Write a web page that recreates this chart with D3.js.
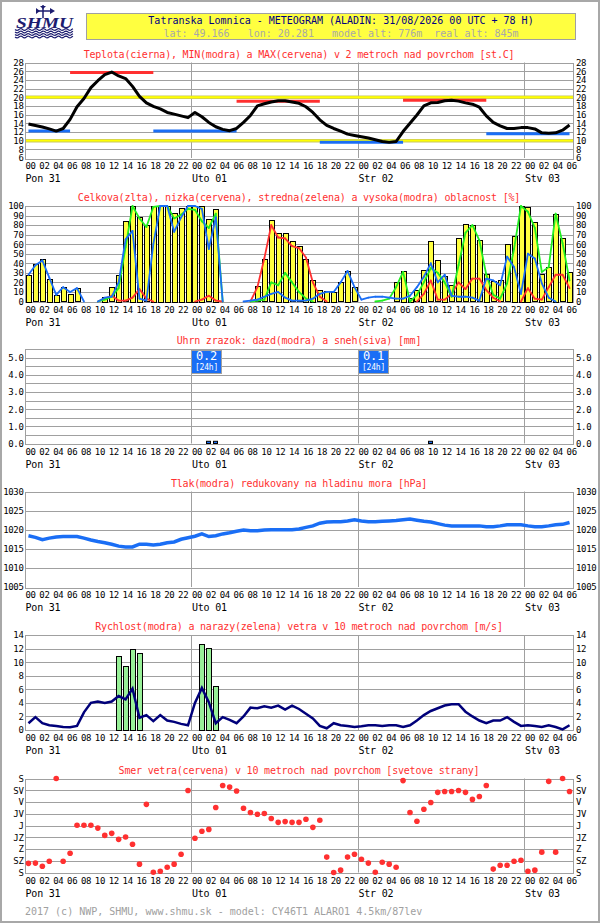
<!DOCTYPE html>
<html>
<head>
<meta charset="utf-8">
<script src="https://cdn.jsdelivr.net/npm/d3@7"></script>
<style>
body { margin: 0; background: #fff; }
svg text { font-family: "DejaVu Sans Mono", monospace; font-size: 10px; letter-spacing: -0.2px; }
svg .tick text { font-size: 9px; letter-spacing: -0.35px; }
</style>
</head>
<body>
<svg id="chart"></svg>
<script>
// hourly values, 00 UTC Mon 31 .. +78 h
var temp = [13.85,13.5,13.15,12.7,12.2,12.8,14.9,17.8,19.7,22.2,
            23.8,25.2,25.8,24.9,24.3,22.5,20.2,18.7,17.9,17.3,
            16.5,16.1,15.7,15.3,16.5,15.5,14.2,13.2,12.6,12.3,
            12.8,14.2,15.8,18.0,18.5,18.9,19.2,19.2,18.9,18.6,
            17.8,16.5,14.8,13.5,12.8,12.2,11.5,11.2,10.9,10.6,
            10.2,9.8,9.6,9.8,12.1,14.0,15.9,18.0,18.7,18.8,
            19.2,19.3,19.1,18.7,18.4,17.7,15.7,14.2,13.4,12.8,
            12.8,13.0,13.0,12.7,11.8,11.7,11.8,12.4,13.6];
var tMax = [25.7, 19.1, 19.3];
var tMaxFrom = [6, 30, 54], tMaxTo = [18, 42, 66];
var tMin = [12.2, 12.2, 9.6, 11.6];
var tMinFrom = [0, 18, 42, 66], tMinTo = [6, 30, 54, 78];

var cloudTotal = [28,39,44,24,7,15,8,14,0,0,
                  0,5,15,28,84,100,89,80,100,100,
                  100,93,98,100,100,100,86,97,0,0,
                  0,0,0,16,44,85,72,72,63,58,
                  45,23,12,11,10,20,32,15,0,0,
                  0,0,0,20,32,4,12,33,63,43,
                  27,17,66,81,80,64,29,21,22,60,
                  69,100,99,83,29,36,92,66,31];
var cloudLow = [0,0,0,0,0,0,0,0,0,0,
                0,3,6,1,1,4,13,3,0,0,
                0,0,0,0,0,2,6,1,0,0,
                0,0,0,15,45,80,67,66,58,56,
                46,20,5,0,0,0,0,0,0,0,
                0,0,0,0,0,0,0,8,22,2,
                2,8,20,13,24,24,12,4,0,0,
                0,0,14,3,2,15,28,28,14];
var cloudMid = [0,0,0,0,0,0,0,0,0,0,
                0,2,5,14,57,100,87,78,99,100,
                100,87,91,97,96,84,77,92,0,0,
                0,0,0,1,2,20,17,30,20,10,
                3,0,0,0,0,0,0,0,0,0,
                0,1,3,15,31,0,7,20,35,30,
                20,5,38,72,80,64,28,7,3,19,
                55,100,94,77,31,36,92,61,22];
var cloudHigh = [28,38,43,25,7,15,10,14,0,0,
                 0,4,5,20,65,74,3,1,60,100,
                 100,73,88,100,100,97,55,88,0,0,
                 0,0,1,2,5,8,10,4,1,1,
                 1,3,8,10,10,20,32,15,2,4,
                 5,5,4,3,3,6,15,26,40,20,
                 28,6,5,5,4,1,24,22,17,47,
                 36,8,50,45,19,4,0,0,0];

var rain = [0,0,0,0,0,0,0,0,0,0,
            0,0,0,0,0,0,0,0,0,0,
            0,0,0,0,0,0,0.1,0.1,0,0,
            0,0,0,0,0,0,0,0,0,0,
            0,0,0,0,0,0,0,0,0,0,
            0,0,0,0,0,0,0,0,0.1,0,
            0,0,0,0,0,0,0,0,0,0,
            0,0,0,0,0,0,0,0,0];

var pressure = [1018.4,1018.0,1017.4,1017.8,1018.1,1018.2,1018.2,1018.2,1017.8,1017.3,
                1016.9,1016.6,1016.2,1015.7,1015.5,1015.5,1016.2,1016.2,1016.0,1016.2,
                1016.6,1016.8,1017.5,1017.9,1018.3,1018.9,1018.2,1018.4,1018.9,1019.2,
                1019.6,1019.9,1019.7,1019.7,1019.9,1020.0,1020.0,1020.0,1020.0,1020.2,
                1020.6,1021.0,1021.7,1022.0,1022.1,1022.1,1022.3,1022.6,1022.3,1022.1,
                1022.1,1022.2,1022.3,1022.4,1022.6,1022.8,1022.5,1022.2,1022.0,1021.6,
                1021.2,1021.0,1021.0,1021.0,1021.0,1021.0,1020.8,1020.8,1021.0,1021.3,
                1021.3,1021.3,1021.0,1020.8,1020.8,1021.0,1021.3,1021.4,1021.9];

var windSpeed = [1.0,1.9,1.0,0.7,0.6,0.45,0.4,0.6,2.6,4.0,
                 4.2,4.0,4.2,5.0,4.5,6.1,1.8,2.2,1.3,2.2,
                 1.4,1.2,0.9,0.7,4.0,6.2,4.1,1.0,1.9,1.5,
                 1.0,2.0,3.3,3.2,3.5,3.3,3.6,3.0,3.6,3.1,
                 2.4,1.7,0.6,0.25,1.0,0.7,0.6,0.45,0.55,0.7,
                 0.7,0.6,0.7,0.7,0.45,0.7,1.4,2.2,2.8,3.2,
                 3.6,3.8,3.8,2.7,2.0,1.4,1.0,1.4,1.4,1.9,
                 1.2,0.6,0.7,0.6,0.45,0.7,0.45,0.1,0.7];
var gustHour = [13, 14, 15, 16, 25, 26, 27];
var gust = [10.9, 9.4, 12.0, 11.4, 12.7, 12.1, 6.5];

var windDir = [325,324,336,317,0,317,286,179,179,179,
               190,218,210,233,224,252,328,99,359,355,
               340,328,290,46,229,202,195,111,27,33,
               48,114,130,137,134,153,168,165,168,168,
               156,187,160,301,360,351,301,290,309,324,
               359,321,328,340,8,130,164,118,92,53,
               50,50,46,53,80,69,27,347,332,332,
               317,313,355,351,282,11,282,0,50];

var dayLabels = ["Pon 31", "Uto 01", "Str 02", "Stv 03"];
var dayStart = [0, 24, 48, 72];
var dirLabels = ["S", "SV", "V", "JV", "J", "JZ", "Z", "SZ", "S"];

var width = 600, height = 923;
var left = 25, right = 573;
var grey = "#a0a0a0";
var blue = "#1a6ef5";
var red = "#ff3030";

var svg = d3.select("#chart").attr("width", width).attr("height", height);

var x = d3.scaleLinear().domain([0, 79]).range([left, right]);
var mid = function(i) { return x(i + 0.5); };
var pad2 = d3.format("02d");

function clean(sel) {
  sel.select(".domain").remove();
  sel.selectAll(".tick line").remove();
}

function panel(p) {
  var y = d3.scaleLinear().domain(p.domain).range([p.bottom, p.top]);
  var g = svg.append("g");

  g.selectAll("line.grid").data(p.grid).enter().append("line")
    .attr("x1", left).attr("x2", right)
    .attr("y1", function(d) { return Math.round(y(d)) + 0.5; })
    .attr("y2", function(d) { return Math.round(y(d)) + 0.5; })
    .attr("stroke", grey);

  g.selectAll("line.day").data(dayStart.slice(1)).enter().append("line")
    .attr("x1", function(d) { return Math.round(x(d)) + 0.5; })
    .attr("x2", function(d) { return Math.round(x(d)) + 0.5; })
    .attr("y1", p.top).attr("y2", p.bottom)
    .attr("stroke", grey);

  g.append("rect")
    .attr("x", left + 0.5).attr("y", Math.round(p.top) + 0.5)
    .attr("width", right - left).attr("height", Math.round(p.bottom - p.top))
    .attr("fill", "none").attr("stroke", grey);

  g.append("g").attr("transform", "translate(" + left + ",0)")
    .call(d3.axisLeft(y).tickValues(p.ticks).tickFormat(p.fmt).tickSize(0).tickPadding(1.5))
    .call(clean);
  g.append("g").attr("transform", "translate(" + right + ",0)")
    .call(d3.axisRight(y).tickValues(p.ticks).tickFormat(p.fmt).tickSize(0).tickPadding(3))
    .call(clean);

  var hx = g.append("g").attr("transform", "translate(0," + p.bottom + ")")
    .call(d3.axisBottom(x).tickValues(d3.range(0, 79, 2))
      .tickFormat(function(d) { return pad2(d % 24); }).tickSize(0).tickPadding(5))
    .call(clean);
  hx.selectAll("text").attr("text-anchor", "start");

  var dx = g.append("g").attr("transform", "translate(0," + p.bottom + ")")
    .call(d3.axisBottom(x).tickValues(dayStart)
      .tickFormat(function(d, i) { return dayLabels[i]; }).tickSize(0).tickPadding(17))
    .call(clean);
  dx.selectAll("text").attr("text-anchor", "start").style("font-size", "10px").style("letter-spacing", "-0.2px");

  svg.append("text")
    .attr("x", 299).attr("y", p.top - 5)
    .attr("text-anchor", "middle")
    .attr("fill", red)
    .text(p.title);

  return y;
}

// frame, logo, header
svg.append("rect").attr("x", 1).attr("y", 1).attr("width", width - 2).attr("height", height - 2)
  .attr("fill", "#fff").attr("stroke", "#a8a8a8").attr("stroke-width", 2);

var logo = svg.append("g").attr("fill", "#1c1c70").attr("stroke", "#1c1c70");
logo.append("line").attr("x1", 43).attr("x2", 43).attr("y1", 5).attr("y2", 18).attr("stroke-width", 1.5);
logo.append("line").attr("x1", 36).attr("x2", 53).attr("y1", 11).attr("y2", 11).attr("stroke-width", 1.5);
logo.append("path").attr("d", "M36,8 L40,11 L36,14 Z M50,8 L55,11 L50,14 Z M40,6 L46,6 L43,9 Z").attr("stroke", "none");
logo.append("text").attr("x", 16).attr("y", 27.5).attr("stroke", "none")
  .attr("textLength", 57).attr("lengthAdjust", "spacingAndGlyphs")
  .style("font-family", "'Liberation Serif', serif").style("font-size", "15px")
  .style("font-weight", "bold").style("font-style", "italic").style("letter-spacing", "0")
  .text("SHMU");
[29.5, 32, 34.5, 37].forEach(function(wy) {
  var pts = d3.range(15, 74, 1).map(function(px) { return [px, wy + Math.sin(px / 1.2) * 0.9]; });
  logo.append("path").attr("d", d3.line()(pts)).attr("fill", "none").attr("stroke-width", 1.2);
});

svg.append("rect").attr("x", 86.5).attr("y", 13.5).attr("width", 489).attr("height", 26)
  .attr("fill", "#ffff40").attr("stroke", grey);
svg.append("text").attr("x", 341).attr("y", 24).attr("text-anchor", "middle").attr("fill", "#000080")
  .style("letter-spacing", "0")
  .text("Tatranska Lomnica - METEOGRAM (ALADIN: 31/08/2026 00 UTC + 78 H)");
svg.append("text").attr("x", 341).attr("y", 37).attr("text-anchor", "middle").attr("fill", "#a8a8a8")
  .style("white-space", "pre").style("letter-spacing", "0")
  .text("lat: 49.166   lon: 20.281   model_alt: 776m  real_alt: 845m");

// temperature
var yT = panel({
  title: "Teplota(cierna), MIN(modra) a MAX(cervena) v 2 metroch nad povrchom [st.C]",
  top: 62.5, bottom: 158, domain: [6, 28],
  grid: d3.range(8, 28, 2), ticks: d3.range(6, 29, 2), fmt: d3.format("d")
});
[20, 10].forEach(function(v) {
  svg.append("line").attr("x1", left + 1).attr("x2", right)
    .attr("y1", yT(v)).attr("y2", yT(v)).attr("stroke", "#c8c860").attr("stroke-width", 3.5);
  svg.append("line").attr("x1", left + 1).attr("x2", right)
    .attr("y1", yT(v)).attr("y2", yT(v)).attr("stroke", "#ffff00").attr("stroke-width", 1.8);
});
svg.selectAll("line.tmin").data(tMin).enter().append("line")
  .attr("x1", function(d, i) { return mid(tMinFrom[i]); })
  .attr("x2", function(d, i) { return mid(tMinTo[i]); })
  .attr("y1", yT).attr("y2", yT)
  .attr("stroke", blue).attr("stroke-width", 3);
svg.selectAll("line.tmax").data(tMax).enter().append("line")
  .attr("x1", function(d, i) { return mid(tMaxFrom[i]); })
  .attr("x2", function(d, i) { return mid(tMaxTo[i]); })
  .attr("y1", yT).attr("y2", yT)
  .attr("stroke", red).attr("stroke-width", 3);
svg.append("path").datum(temp)
  .attr("d", d3.line().x(function(d, i) { return mid(i); }).y(yT))
  .attr("fill", "none").attr("stroke", "#000").attr("stroke-width", 3)
  .attr("stroke-linejoin", "round");

// clouds
var yC = panel({
  title: "Celkova(zlta), nizka(cervena), stredna(zelena) a vysoka(modra) oblacnost [%]",
  top: 206, bottom: 301.5, domain: [0, 100],
  grid: d3.range(10, 100, 10), ticks: d3.range(0, 101, 10), fmt: d3.format("d")
});
svg.selectAll("rect.cloud").data(cloudTotal).enter().append("rect")
  .attr("x", function(d, i) { return Math.round(x(i)) + 1.5; })
  .attr("y", function(d) { return Math.round(yC(d)) + 0.5; })
  .attr("width", 5)
  .attr("height", function(d) { return Math.round(yC(0) - yC(d)); })
  .attr("fill", "#ffff40").attr("stroke", "#000")
  .style("display", function(d) { return d > 0 ? null : "none"; });
var cLine = d3.line().x(function(d) { return mid(d[0]); }).y(function(d) { return yC(d[1]); });
function segLine(arr, color) {
  var segs = d3.range(arr.length - 1)
    .filter(function(i) { return arr[i] > 0 || arr[i + 1] > 0; })
    .map(function(i) { return [[i, arr[i]], [i + 1, arr[i + 1]]]; });
  svg.selectAll(null).data(segs).enter().append("path")
    .attr("d", cLine).attr("fill", "none").attr("stroke", color)
    .attr("stroke-width", 1.8).attr("stroke-linecap", "round");
}
segLine(cloudLow, red);
segLine(cloudMid, "#22ee22");
segLine(cloudHigh, blue);

// precipitation
var yP = panel({
  title: "Uhrn zrazok: dazd(modra) a sneh(siva) [mm]",
  top: 349, bottom: 443.5, domain: [0, 5.5],
  grid: d3.range(0.5, 5.5, 0.5), ticks: d3.range(0, 5.01, 1), fmt: d3.format(".1f")
});
svg.selectAll("rect.rain").data(rain).enter().append("rect")
  .attr("x", function(d, i) { return Math.round(x(i)) + 1.5; })
  .attr("y", function(d) { return yP(d) - 0.5; })
  .attr("width", 4).attr("height", function(d) { return yP(0) - yP(d) + 0.5; })
  .attr("fill", blue).attr("stroke", "#000")
  .style("display", function(d) { return d > 0 ? null : "none"; });
dayStart.forEach(function(s) {
  var sum = d3.sum(rain.slice(s, s + 24));
  if (sum <= 0) return;
  var bx = Math.round(x(s)) + 0.5;
  svg.append("rect").attr("x", bx).attr("y", 350.5).attr("width", 30).attr("height", 23)
    .attr("fill", blue).attr("stroke", grey);
  svg.append("text").attr("x", bx + 15).attr("y", 360).attr("text-anchor", "middle")
    .attr("fill", "#fff").style("font-size", "12px").text(d3.format(".1f")(sum));
  svg.append("text").attr("x", bx + 15).attr("y", 370).attr("text-anchor", "middle")
    .attr("fill", "#fff").style("font-size", "8px").text("[24h]");
});

// pressure
var yPr = panel({
  title: "Tlak(modra) redukovany na hladinu mora [hPa]",
  top: 491.5, bottom: 587, domain: [1005, 1030],
  grid: d3.range(1010, 1030, 5), ticks: d3.range(1005, 1031, 5), fmt: d3.format("d")
});
svg.append("path").datum(pressure)
  .attr("d", d3.line().x(function(d, i) { return mid(i); }).y(yPr))
  .attr("fill", "none").attr("stroke", blue).attr("stroke-width", 3.5);

// wind speed and gusts
var yW = panel({
  title: "Rychlost(modra) a narazy(zelena) vetra v 10 metroch nad povrchom [m/s]",
  top: 635, bottom: 730, domain: [0, 14],
  grid: d3.range(2, 14, 2), ticks: d3.range(0, 15, 2), fmt: d3.format("d")
});
svg.selectAll("rect.gust").data(gust).enter().append("rect")
  .attr("x", function(d, i) { return Math.round(x(gustHour[i])) + 1.5; })
  .attr("y", function(d) { return Math.round(yW(d)) + 0.5; })
  .attr("width", 5).attr("height", function(d) { return Math.round(yW(0) - yW(d)); })
  .attr("fill", "#98f098").attr("stroke", "#000");
svg.append("path").datum(windSpeed)
  .attr("d", d3.line().x(function(d, i) { return mid(i); }).y(yW))
  .attr("fill", "none").attr("stroke", "#00007a").attr("stroke-width", 2.5);

// wind direction
var yD = panel({
  title: "Smer vetra(cervena) v 10 metroch nad povrchom [svetove strany]",
  top: 778.5, bottom: 872.5, domain: [360, 0],
  grid: d3.range(45, 360, 45), ticks: d3.range(0, 361, 45),
  fmt: function(d) { return dirLabels[d / 45]; }
});
svg.selectAll("circle.dir").data(windDir).enter().append("circle")
  .attr("cx", function(d, i) { return mid(i); })
  .attr("cy", yD)
  .attr("r", 2.8)
  .attr("fill", red);

svg.append("text").attr("x", 25).attr("y", 915).attr("fill", "#a0a0a0")
  .style("letter-spacing", "0")
  .text("2017 (c) NWP, SHMU, www.shmu.sk - model: CY46T1 ALARO1 4.5km/87lev");
</script>
</body>
</html>
